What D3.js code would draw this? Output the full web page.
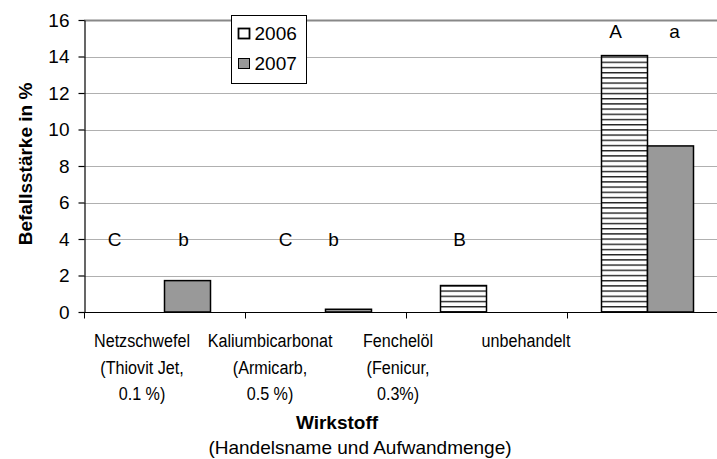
<!DOCTYPE html>
<html>
<head>
<meta charset="utf-8">
<script src="https://cdn.jsdelivr.net/npm/d3@7"></script>
<style>
  body { margin: 0; background: #fff; }
  text { font-family: "Liberation Sans", Arial, sans-serif; fill: #000; }
</style>
</head>
<body>
<div class="d3-canvas"></div>
<script>
const WIDTH = 717;
const HEIGHT = 459;
const FONT = 19;

// Data
const categories = ['Netzschwefel', 'Kaliumbicarbonat', 'Fenchelöl', 'unbehandelt'];
const categoryLines = [
    ['Netzschwefel', '(Thiovit Jet,', '0.1 %)'],
    ['Kaliumbicarbonat', '(Armicarb,', '0.5 %)'],
    ['Fenchelöl', '(Fenicur,', '0.3%)'],
    ['unbehandelt']
];
const series = ['2006', '2007'];
const values2006 = [0, 0, 1.45, 14.05];
const values2007 = [1.72, 0.15, 0, 9.1];
const letters2006 = ['C', 'C', 'B', 'A'];
const letters2007 = ['b', 'b', '', 'a'];
const letterLevel = [4, 4, 4, 15.4];
const yTicks = [0, 2, 4, 6, 8, 10, 12, 14, 16];

const margin = {top: 20, left: 84, bottom: 147};
const plotRight = 728;
const chartHeight = HEIGHT - margin.top - margin.bottom;

const svg = d3.select('.d3-canvas')
    .append('svg')
        .attr('width', WIDTH)
        .attr('height', HEIGHT);

// Stripe pattern for 2006
const pattern = svg.append('defs').append('pattern')
    .attr('id', 'stripes')
    .attr('patternUnits', 'userSpaceOnUse')
    .attr('width', 8)
    .attr('height', 5.2);
pattern.append('rect').attr('width', 8).attr('height', 5.2).attr('fill', '#fff');
pattern.append('rect').attr('y', 0).attr('width', 8).attr('height', 1.4).attr('fill', '#222');

const chart = svg.append('g')
    .attr('transform', `translate(${margin.left}, ${margin.top})`);

const x = d3.scaleBand()
    .domain(categories)
    .range([0, plotRight - margin.left]);
const x1 = d3.scaleBand()
    .domain(series)
    .range([0, x.bandwidth()])
    .paddingOuter(0.75);
const y = d3.scaleLinear()
    .domain([0, 16])
    .range([chartHeight, 0]);

// Gridlines
chart.append('g')
    .selectAll('line')
    .data(yTicks.filter(d => d > 0))
    .join('line')
        .attr('x1', 0)
        .attr('x2', plotRight - margin.left)
        .attr('y1', d => Math.round(y(d)) + 0.5)
        .attr('y2', d => Math.round(y(d)) + 0.5)
        .attr('stroke', d => d === 16 ? '#888' : '#b0b0b0')
        .attr('stroke-width', d => d === 16 ? 1.8 : 1.2);

// Bars
const rows = categories.map((c, i) => ({c, vals: [values2006[i], values2007[i]]}));
const groups = chart.selectAll('.grp')
    .data(rows)
    .join('g')
        .attr('transform', d => `translate(${x(d.c)}, 0)`);

groups.selectAll('rect')
    .data(d => d.vals.map((v, j) => ({s: series[j], v})).filter(e => e.v > 0))
    .join('rect')
        .attr('x', d => x1(d.s))
        .attr('y', d => y(d.v))
        .attr('width', x1.bandwidth())
        .attr('height', d => y(0) - y(d.v))
        .attr('fill', d => d.s === '2006' ? 'url(#stripes)' : '#999')
        .attr('stroke', '#000')
        .attr('stroke-width', 1.5);

// Significance letters (hand placed in the original, so nudged a bit)
const letterNudge = [[-27, -4], [-17, -15], [-4, 0], [-9, 4]];
categories.forEach((c, i) => {
    [letters2006[i], letters2007[i]].forEach((l, j) => {
        if (!l) return;
        chart.append('text')
            .attr('x', x(c) + x1(series[j]) + x1.bandwidth() / 2 + letterNudge[i][j])
            .attr('y', y(letterLevel[i]))
            .attr('dy', '0.36em')
            .attr('text-anchor', 'middle')
            .attr('font-size', FONT)
            .text(l);
    });
});

// Axes
const yAxis = d3.axisLeft(y)
    .tickValues(yTicks)
    .tickSize(6)
    .tickPadding(9)
    .tickSizeOuter(0);
const yAxisGroup = chart.append('g')
    .attr('transform', 'translate(0.5, 0)')
    .call(yAxis);
yAxisGroup.selectAll('text').attr('font-size', FONT).attr('font-family', '"Liberation Sans", Arial, sans-serif');
yAxisGroup.selectAll('line, path').attr('stroke', '#000').attr('stroke-width', 1.2);

const xAxisGroup = chart.append('g')
    .attr('transform', `translate(0, ${chartHeight + 0.5})`);
xAxisGroup.append('line')
    .attr('x1', 0).attr('x2', plotRight - margin.left)
    .attr('stroke', '#000').attr('stroke-width', 1.2);
xAxisGroup.selectAll('.tick')
    .data(categories.concat(['end']))
    .join('line')
        .attr('x1', (d, i) => Math.round(i * x.bandwidth()) + 0.5)
        .attr('x2', (d, i) => Math.round(i * x.bandwidth()) + 0.5)
        .attr('y1', 0).attr('y2', 6)
        .attr('stroke', '#000').attr('stroke-width', 1);

// Category labels (laid out on a narrower band and squeezed in the original)
const xl = d3.scaleBand()
    .domain(categories)
    .range([78 - margin.left, 590 - margin.left]);
categories.forEach((c, i) => {
    const t = chart.append('text')
        .attr('transform', `translate(${xl(c) + xl.bandwidth() / 2}, ${chartHeight + 35}) scale(0.85, 1)`)
        .attr('text-anchor', 'middle')
        .attr('font-size', FONT);
    categoryLines[i].forEach((line, k) => {
        t.append('tspan')
            .attr('x', 0)
            .attr('dy', k === 0 ? 0 : 26.7)
            .text(line);
    });
});

// Axis titles
svg.append('text')
    .attr('x', 337)
    .attr('y', 429)
    .attr('text-anchor', 'middle')
    .attr('font-size', FONT)
    .attr('font-weight', 'bold')
    .text('Wirkstoff');
svg.append('text')
    .attr('x', 360)
    .attr('y', 454)
    .attr('text-anchor', 'middle')
    .attr('font-size', FONT)
    .text('(Handelsname und Aufwandmenge)');
svg.append('text')
    .attr('transform', 'translate(32, 164) rotate(-90)')
    .attr('text-anchor', 'middle')
    .attr('font-size', FONT)
    .attr('font-weight', 'bold')
    .text('Befallsstärke in %');

// Legend
const legend = svg.append('g').attr('transform', 'translate(231.5, 15.5)');
legend.append('rect')
    .attr('width', 75).attr('height', 68)
    .attr('fill', '#fff').attr('stroke', '#000').attr('stroke-width', 1);
series.forEach((s, i) => {
    const gy = 18 + i * 30;
    legend.append('rect')
        .attr('x', 7).attr('y', gy - 5)
        .attr('width', 11).attr('height', 10)
        .attr('fill', s === '2006' ? '#fff' : '#999')
        .attr('stroke', '#000').attr('stroke-width', s === '2006' ? 1.8 : 1);
    legend.append('text')
        .attr('x', 23).attr('y', gy)
        .attr('dy', '0.36em')
        .attr('font-size', FONT)
        .text(s);
});
</script>
</body>
</html>
